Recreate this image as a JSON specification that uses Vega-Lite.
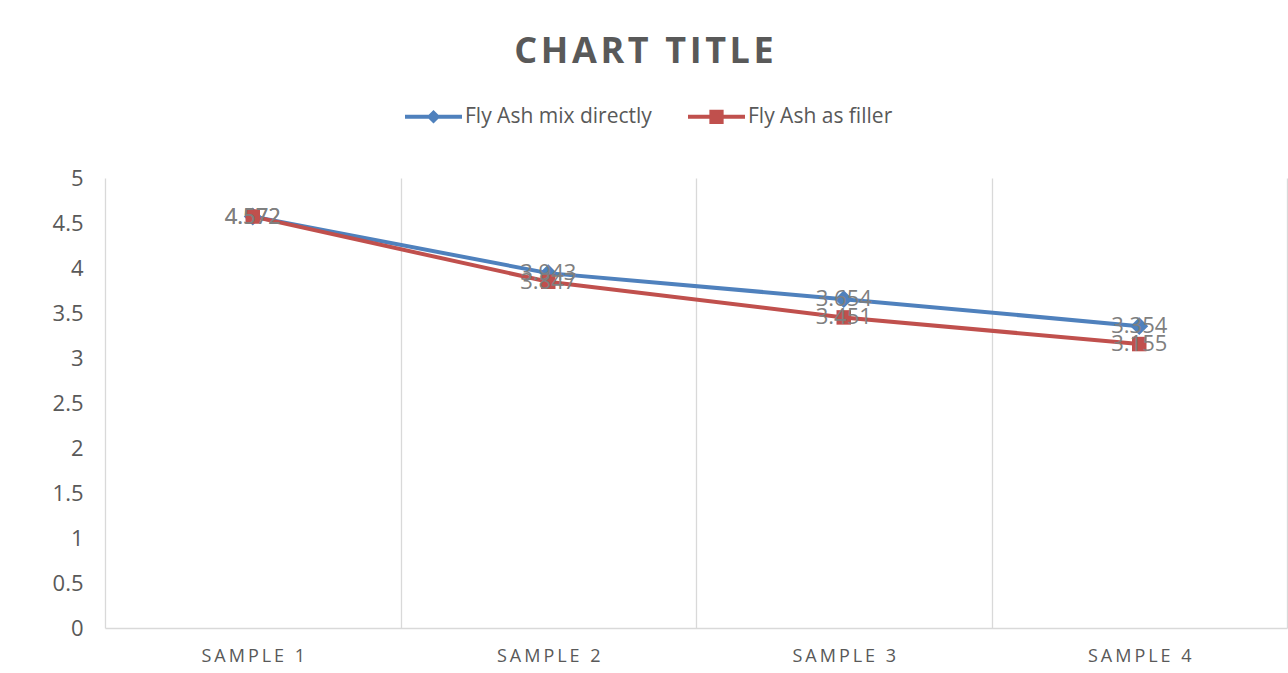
{
  "$schema": "https://vega.github.io/schema/vega-lite/v6.json",
  "width": 1182,
  "height": 450,
  "autosize": "none",
  "padding": {"left": 105, "top": 178, "right": 1, "bottom": 45},
  "background": "white",
  "title": {
    "text": "C\u200aH\u200aA\u200aR\u200aT\u200a \u200aT\u200aI\u200aT\u200aL\u200aE",
    "font": "Open Sans",
    "fontSize": 36,
    "fontWeight": "bold",
    "color": "#595959",
    "anchor": "middle",
    "baseline": "middle",
    "dx": -52,
    "offset": 0
  },
  "data": {
    "values": [
      {"sample": "Sample 1", "series": "Fly Ash mix directly", "value": 4.572},
      {"sample": "Sample 2", "series": "Fly Ash mix directly", "value": 3.943},
      {"sample": "Sample 3", "series": "Fly Ash mix directly", "value": 3.654},
      {"sample": "Sample 4", "series": "Fly Ash mix directly", "value": 3.354},
      {"sample": "Sample 1", "series": "Fly Ash as filler", "value": 4.572},
      {"sample": "Sample 2", "series": "Fly Ash as filler", "value": 3.847},
      {"sample": "Sample 3", "series": "Fly Ash as filler", "value": 3.451},
      {"sample": "Sample 4", "series": "Fly Ash as filler", "value": 3.155}
    ]
  },
  "encoding": {
    "x": {
      "field": "sample",
      "type": "nominal",
      "scale": {"type": "band", "paddingInner": 0, "paddingOuter": 0},
      "axis": {
        "title": null,
        "labelAngle": 0,
        "labelExpr": "join(split(upper(datum.label), ''), '\u2009')",
        "labelFont": "Open Sans",
        "labelFontSize": 18,
        "labelColor": "#595959",
        "labelPadding": 19,
        "ticks": false,
        "tickBand": "extent",
        "grid": true,
        "gridColor": "#d9d9d9",
        "gridWidth": 1.3,
        "domainColor": "#d9d9d9",
        "domainWidth": 1.5
      }
    },
    "y": {
      "field": "value",
      "type": "quantitative",
      "scale": {"domain": [0, 5], "nice": false, "zero": true},
      "axis": {
        "title": null,
        "values": [0, 0.5, 1, 1.5, 2, 2.5, 3, 3.5, 4, 4.5, 5],
        "format": "~g",
        "grid": false,
        "domain": false,
        "ticks": false,
        "labelFont": "Open Sans",
        "labelFontSize": 22,
        "labelColor": "#595959",
        "labelPadding": 22
      }
    },
    "color": {
      "field": "series",
      "type": "nominal",
      "scale": {
        "domain": ["Fly Ash mix directly", "Fly Ash as filler"],
        "range": ["#4f81bd", "#c0504d"]
      },
      "legend": {
        "title": null,
        "orient": "none",
        "direction": "horizontal",
        "legendX": 300,
        "legendY": -90,
        "padding": 0,
        "symbolSize": 3249,
        "symbolOpacity": 1,
        "symbolStrokeWidth": 0,
        "labelFont": "Open Sans",
        "labelFontSize": 21,
        "labelColor": "#595959",
        "labelOffset": 3,
        "columnPadding": 36,
        "labelLimit": 400
      }
    }
  },
  "layer": [
    {
      "mark": {"type": "line", "strokeWidth": 4},
      "encoding": {}
    },
    {
      "description": "legend key only: a line with the series marker on it; draws no marks",
      "transform": [{"filter": "false"}],
      "mark": {"type": "point", "filled": true, "opacity": 1},
      "encoding": {
        "shape": {
          "field": "series",
          "type": "nominal",
          "scale": {
            "domain": ["Fly Ash mix directly", "Fly Ash as filler"],
            "range": [
              "M-1,-0.07H1V0.07H-1Z M0,-0.24L0.24,0L0,0.24L-0.24,0Z",
              "M-1,-0.07H1V0.07H-1Z M-0.25,-0.25H0.25V0.25H-0.25Z"
            ]
          }
        }
      }
    },
    {
      "transform": [{"filter": "datum.series === 'Fly Ash mix directly'"}],
      "mark": {"type": "point", "filled": true, "opacity": 1, "shape": "diamond", "size": 320}
    },
    {
      "transform": [{"filter": "datum.series === 'Fly Ash as filler'"}],
      "mark": {"type": "point", "filled": true, "opacity": 1, "shape": "square", "size": 210}
    },
    {
      "mark": {
        "type": "text",
        "font": "Open Sans",
        "fontSize": 22,
        "baseline": "middle",
        "align": "center"
      },
      "encoding": {
        "text": {"field": "value", "type": "quantitative", "format": ".3f"},
        "color": {"value": "#7f7f7f"}
      }
    }
  ],
  "config": {
    "view": {"stroke": null}
  }
}
